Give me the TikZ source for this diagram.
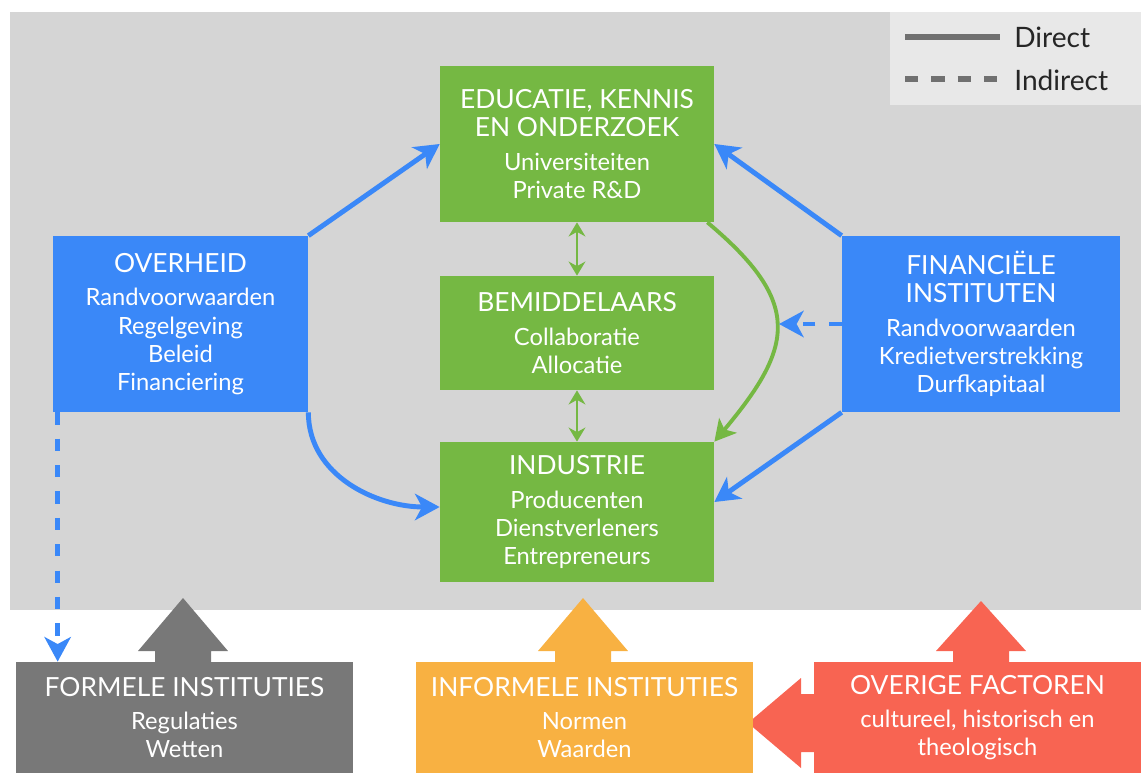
\documentclass[tikz,border=0pt]{standalone}
\usepackage{fontspec}
\setmainfont{Lato}
\usetikzlibrary{arrows.meta}

\definecolor{bgGrey}{HTML}{D5D5D5}
\definecolor{legendGrey}{HTML}{E8E8E8}
\definecolor{lineGrey}{HTML}{707070}
\definecolor{sectorGreen}{HTML}{75B843}
\definecolor{actorBlue}{HTML}{3A88F8}
\definecolor{formalGrey}{HTML}{787878}
\definecolor{informalOrange}{HTML}{F8B142}
\definecolor{otherRed}{HTML}{F86452}

\newcommand{\kop}[1]{{\fontsize{15}{17}\selectfont #1}}

\begin{document}
\begin{tikzpicture}[Sector/.style={fill=sectorGreen, text=white, align=center, minimum width=5.48cm, inner sep=0pt, font=\fontsize{13.5}{16}\selectfont},
Actor/.style={fill=actorBlue, text=white, align=center, minimum height=3.52cm, inner sep=0pt, font=\fontsize{13.5}{16}\selectfont},
Context/.style={text=white, align=center, minimum height=2.22cm, inner sep=0pt, font=\fontsize{13.5}{16}\selectfont},
Direct/.style={draw=actorBlue, line width=2.8pt, -{Stealth[length=14pt, width=15pt, inset=4pt]}},
Indirect/.style={Direct, dash pattern=on 7pt off 8pt},
Feedback/.style={draw=sectorGreen, line width=2.2pt, -{Stealth[length=12pt, width=13pt, inset=3pt]}},
Link/.style={draw=sectorGreen, line width=1.6pt, {Stealth[length=8pt, width=9.5pt]}-{Stealth[length=8pt, width=9.5pt]}}]

\useasboundingbox (0,0) rectangle (22.82,-15.46);

% achtergrond en legenda
\fill[bgGrey] (0.2,-0.24) rectangle (22.82,-12.2);
\fill[legendGrey] (17.8,-0.24) rectangle (22.82,-2.1);

\coordinate (dirA) at (18.1,-0.74);
\coordinate (dirB) at (20.0,-0.74);
\coordinate (indA) at (18.1,-1.58);
\coordinate (indB) at (20.0,-1.58);
\draw[lineGrey, line width=3pt] (dirA) -- (dirB);
\draw[lineGrey, line width=3pt, dash pattern=on 7.5pt off 7.5pt] (indA) -- (indB);
\node[anchor=west, text=black!85, font=\fontsize{16}{18}\selectfont, inner sep=0pt] (lgDirect) at (20.28,-0.74) {Direct};
\node[anchor=west, text=black!85, font=\fontsize{16}{18}\selectfont, inner sep=0pt] (lgIndirect) at (20.28,-1.6) {Indirect};

% blokpijlen onderaan
\fill[formalGrey] (3.1,-13.3) -- (3.1,-13.02) -- (2.76,-13.02) -- (3.66,-11.96) -- (4.56,-13.02) -- (4.22,-13.02) -- (4.22,-13.3) -- cycle;
\fill[informalOrange] (11.1,-13.3) -- (11.1,-13.02) -- (10.76,-13.02) -- (11.66,-11.96) -- (12.56,-13.02) -- (12.22,-13.02) -- (12.22,-13.3) -- cycle;
\fill[otherRed] (19.06,-13.3) -- (19.06,-13.02) -- (18.72,-13.02) -- (19.62,-12.02) -- (20.52,-13.02) -- (20.18,-13.02) -- (20.18,-13.3) -- cycle;
\fill[otherRed] (16.4,-13.88) -- (16.02,-13.88) -- (16.02,-13.56) -- (14.96,-14.46) -- (16.02,-15.36) -- (16.02,-15.04) -- (16.4,-15.04) -- cycle;

% sectoren
\node[Sector, minimum height=3.12cm] (edu) at (11.54,-2.88) {\kop{EDUCATIE, KENNIS}\\\kop{EN ONDERZOEK}\\[3pt]Universiteiten\\Private R\&D};
\node[Sector, minimum height=2.28cm] (bem) at (11.54,-6.66) {\kop{BEMIDDELAARS}\\[3pt]Collaboratie\\Allocatie};
\node[Sector, minimum height=2.8cm] (ind) at (11.54,-10.24) {\kop{INDUSTRIE}\\[3pt]Producenten\\Dienstverleners\\Entrepreneurs};

% actoren
\node[Actor, minimum width=5.1cm] (ovh) at (3.61,-6.48) {\kop{OVERHEID}\\[3pt]Randvoorwaarden\\Regelgeving\\Beleid\\Financiering};
\node[Actor, minimum width=5.56cm] (fin) at (19.62,-6.48) {\kop{FINANCIËLE}\\\kop{INSTITUTEN}\\[3pt]Randvoorwaarden\\Kredietverstrekking\\Durfkapitaal};

% instituties
\node[Context, fill=formalGrey, minimum width=6.74cm] (form) at (3.69,-14.35) {\kop{FORMELE INSTITUTIES}\\[3pt]Regulaties\\Wetten};
\node[Context, fill=informalOrange, minimum width=6.74cm] (inform) at (11.69,-14.35) {\kop{INFORMELE INSTITUTIES}\\[3pt]Normen\\Waarden};
\node[Context, fill=otherRed, minimum width=6.54cm] (overig) at (19.55,-14.35) {\kop{OVERIGE FACTOREN}\\[3pt]cultureel, historisch en\\theologisch};

% verbindingen
\draw[Link] (edu.south) -- (bem.north);
\draw[Link] (bem.south) -- (ind.north);
\draw[Feedback] ([xshift=-1.4mm]edu.south east) to[out=-40, in=50, looseness=1.45] (ind.north east);
\coordinate (bulge) at (15.58,-6.48);

\draw[Direct] (ovh.north east) -- (edu.west);
\draw[Direct] (ovh.south east) to[out=-90, in=180] ([yshift=1mm]ind.west);
\draw[Direct] (fin.north west) -- (edu.east);
\draw[Direct] (fin.south west) -- ([yshift=2mm]ind.east);
\draw[Indirect] (fin.west) -- (bulge);
\draw[Indirect] ([xshift=1mm]ovh.south west) -- ([xshift=1mm]ovh.south west |- form.north);

\end{tikzpicture}
\end{document}
